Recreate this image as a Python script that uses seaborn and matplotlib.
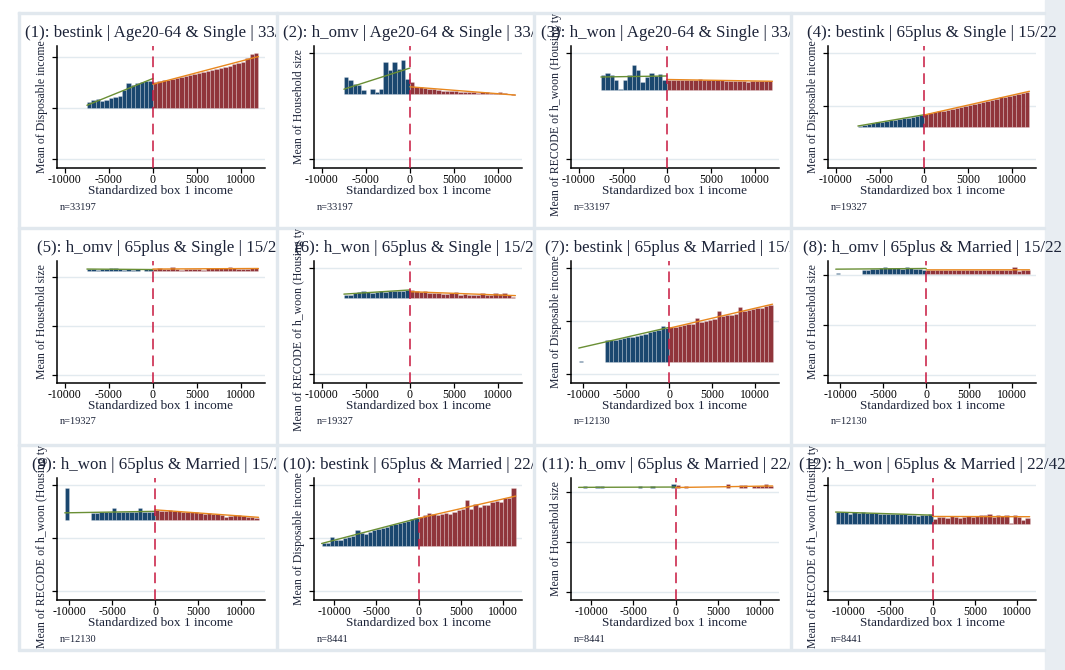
import numpy as np
import matplotlib
matplotlib.use("Agg")
import matplotlib.pyplot as plt
from matplotlib.transforms import Bbox, TransformedBbox
from matplotlib.patches import Rectangle
import seaborn as sns

# ---------------------------------------------------------------------------
# Binned means (500-wide bins of standardized box 1 income), left of the
# cutoff ending at 0 and right of the cutoff starting at 0. NaN = empty bin.
# Values are in each panel's own y units (axis ticks at 0 / 0.5 / 1).
# ---------------------------------------------------------------------------
BIN_WIDTH = 500
nan = np.nan

p1_left = [0.562, 0.578, 0.584, 0.571, 0.578, 0.594, 0.610, 0.617, 0.675, 0.740,
           0.724, 0.740, 0.756, 0.763, 0.766]
p1_right = [0.756, 0.762, 0.770, 0.778, 0.787, 0.795, 0.805, 0.812, 0.823, 0.833,
            0.842, 0.852, 0.862, 0.873, 0.884, 0.893, 0.903, 0.914, 0.925, 0.935,
            0.948, 0.985, 1.030, 1.040]
p1_base = 0.5

p2_left = [0.773, 0.748, 0.710, 0.695, 0.654, 0.617, 0.664, 0.632, 0.664, 0.913,
           0.835, 0.913, 0.850, 0.935, 0.757]
p2_right = [0.726, 0.680, 0.675, 0.665, 0.660, 0.655, 0.650, 0.645, 0.642, 0.640,
            0.637, 0.635, 0.632, 0.630, 0.628, 0.625, 0.628, 0.632, 0.622, 0.620,
            0.628, 0.625, 0.612, 0.600]
p2_base = 0.61

p3_left = [0.788, 0.810, 0.788, 0.741, 0.664, 0.741, 0.788, 0.882, 0.835, 0.726,
           0.773, 0.810, 0.779, 0.798, 0.741]
p3_right = [0.748, 0.748, 0.746, 0.748, 0.745, 0.742, 0.748, 0.750, 0.746, 0.744,
            0.742, 0.740, 0.740, 0.739, 0.738, 0.738, 0.737, 0.736, 0.726, 0.738,
            0.737, 0.736, 0.735, 0.735]
p3_base = 0.648

p4_left = [0.310, 0.320, 0.330, 0.335, 0.345, 0.350, 0.360, 0.365, 0.370, 0.380,
           0.385, 0.390, 0.400, 0.405, 0.410]
p4_right = [0.420, 0.430, 0.440, 0.450, 0.455, 0.465, 0.475, 0.480, 0.490, 0.500,
            0.510, 0.520, 0.530, 0.540, 0.550, 0.560, 0.570, 0.580, 0.585, 0.595,
            0.605, 0.615, 0.625, 0.635]
p4_base = 0.297

p5_left = [1.080, 1.080, 1.075, 1.080, 1.085, 1.095, 1.090, 1.080, 1.070, 1.080,
           1.075, 1.080, 1.065, 1.080, 1.085]
p5_right = [1.085, 1.090, 1.080, 1.080, 1.100, 1.080, 1.075, 1.080, 1.080, 1.080,
            1.080, 1.075, 1.090, 1.090, 1.090, 1.090, 1.095, 1.100, 1.090, 1.080,
            1.080, 1.080, 1.090, 1.090]
p5_base = 1.06

p6_left = [0.740, 0.745, 0.760, 0.775, 0.780, 0.775, 0.765, 0.775, 0.780, 0.775,
           0.780, 0.782, 0.780, 0.785, 0.790]
p6_right = [0.790, 0.780, 0.775, 0.778, 0.765, 0.760, 0.765, 0.755, 0.750, 0.762,
            0.775, 0.745, 0.750, 0.745, 0.740, 0.745, 0.760, 0.745, 0.740, 0.765,
            0.750, 0.765, 0.740, 0.730]
p6_base = 0.717

p7_left = [0.127, nan, nan, nan, nan, nan,
           0.317, 0.320, 0.325, 0.332, 0.340, 0.347, 0.353, 0.362, 0.372, 0.381,
           0.392, 0.402, 0.413, 0.454, 0.436]
p7_right = [0.440, 0.445, 0.450, 0.460, 0.468, 0.475, 0.524, 0.490, 0.500, 0.508,
            0.518, 0.597, 0.545, 0.553, 0.560, 0.565, 0.635, 0.590, 0.600, 0.612,
            0.620, 0.626, 0.640, 0.654]
p7_base = 0.111

p8_left = [1.015, nan, nan, nan, nan, nan,
           1.048, 1.050, 1.055, 1.062, 1.072, 1.075, 1.070, 1.065, 1.068, 1.060,
           1.075, 1.068, 1.060, 1.056, 1.052]
p8_right = [1.052, 1.050, 1.052, 1.050, 1.053, 1.050, 1.052, 1.050, 1.052, 1.050,
            1.052, 1.050, 1.052, 1.050, 1.052, 1.050, 1.052, 1.050, 1.052, 1.050,
            1.075, 1.040, 1.052, 1.045]
p8_base = 1.007

p9_left = [0.968, nan, nan, nan, nan, nan,
           0.735, 0.735, 0.740, 0.740, 0.742, 0.780, 0.742, 0.740, 0.742, 0.740,
           0.744, 0.780, 0.742, 0.740, 0.744]
p9_right = [0.760, 0.755, 0.755, 0.760, 0.750, 0.750, 0.745, 0.745, 0.740, 0.740,
            0.735, 0.730, 0.735, 0.725, 0.730, 0.720, 0.700, 0.710, 0.715, 0.720,
            0.705, 0.700, 0.695, 0.690]
p9_base = 0.665

p10_left = [0.450, 0.457, 0.511, 0.479, 0.482, 0.495, 0.505, 0.521, 0.575, 0.546,
            0.537, 0.559, 0.578, 0.585, 0.591, 0.601, 0.623, 0.633, 0.642, 0.649,
            0.661, 0.674, 0.687]
p10_right = [0.696, 0.712, 0.738, 0.728, 0.719, 0.728, 0.738, 0.728, 0.744, 0.760,
             0.776, 0.856, 0.776, 0.824, 0.792, 0.808, 0.808, 0.840, 0.847, 0.840,
             0.872, 0.872, 0.968]
p10_base = 0.425

p11_left = [1.043, 1.058, 1.043, 1.043, 1.058, 1.058, 1.043, 1.043, 1.043, 1.043,
            1.043, 1.043, 1.043, 1.043, 1.058, 1.043, 1.043, 1.058, 1.043, 1.043,
            1.043, 1.043, 1.075]
p11_right = [1.068, 1.043, 1.058, 1.043, 1.043, 1.043, 1.043, 1.043, 1.043, 1.043,
             1.043, 1.043, 1.075, 1.043, 1.043, 1.068, 1.068, 1.043, 1.058, 1.058,
             1.058, 1.075, 1.058]
p11_base = 1.041

p12_left = [0.745, 0.745, 0.740, 0.728, 0.740, 0.735, 0.740, 0.735, 0.735, 0.735,
            0.730, 0.730, 0.730, 0.730, 0.725, 0.730, 0.725, 0.720, 0.715, 0.705,
            0.720, 0.715, 0.725]
p12_right = [0.680, 0.700, 0.700, 0.690, 0.710, 0.700, 0.690, 0.700, 0.710, 0.700,
             0.710, 0.720, 0.720, 0.730, 0.700, 0.720, 0.710, 0.720, 0.640, 0.720,
             0.700, 0.670, 0.690]
p12_base = 0.633

outcomes = ["bestink", "h_omv", "h_won", "bestink", "h_omv", "h_won",
            "bestink", "h_omv", "h_won", "bestink", "h_omv", "h_won"]
groups = ["Age20-64 & Single"] * 3 + ["65plus & Single"] * 3 + ["65plus & Married"] * 6
cutoffs = ["33/42"] * 3 + ["15/22"] * 6 + ["22/42"] * 3
sample_sizes = [33197] * 3 + [19327] * 3 + [12130] * 3 + [8441] * 3
outcome_labels = {
    "bestink": "Mean of Disposable income",
    "h_omv": "Mean of Household size",
    "h_won": "Mean of RECODE of h_woon (Housing type)",
}
x_ticks = [-10000, -5000, 0, 5000, 10000]
x_title = "Standardized box 1 income"

left_series = [p1_left, p2_left, p3_left, p4_left, p5_left, p6_left,
               p7_left, p8_left, p9_left, p10_left, p11_left, p12_left]
right_series = [p1_right, p2_right, p3_right, p4_right, p5_right, p6_right,
                p7_right, p8_right, p9_right, p10_right, p11_right, p12_right]
bases = [p1_base, p2_base, p3_base, p4_base, p5_base, p6_base,
         p7_base, p8_base, p9_base, p10_base, p11_base, p12_base]
tick_sets = [3, 2, 2, 3, 3, 2, 3, 3, 3, 3, 3, 2]

# ---------------------------------------------------------------------------
# Style
# ---------------------------------------------------------------------------
sns.set_theme(style="ticks")
plt.rcParams["font.family"] = ["Liberation Serif", "DejaVu Serif"]
plt.rcParams["axes.linewidth"] = 1.1

BLUE = "#1a476f"
MAROON = "#90353b"
GREEN = "#6a8f35"
ORANGE = "#e8871e"
CUT_RED = "#c8173f"
GRID = "#e2eaef"
SEP = "#e1e8ee"
STRIP = "#e8edf2"
TEXT = "#1c2338"

W, H = 1065, 670
fig = plt.figure(figsize=(W / 100, H / 100), dpi=100, facecolor="white")


def fx(px):
    return px / W


def fy(py):
    return 1 - py / H


col_left = [20, 277, 534, 791]
col_right = [276, 533, 790, 1045]
row_top = [14, 229, 446]
row_bottom = [227, 443, 649]

# page background: right strip and light cell separators
fig.patches.append(Rectangle((fx(1045), 0), fx(20), 1, transform=fig.transFigure,
                             color=STRIP, zorder=0))
for xs in [18, 276, 533, 790]:
    fig.patches.append(Rectangle((fx(xs), fy(649)), fx(2), (649 - 12) / H,
                                 transform=fig.transFigure, color=SEP, zorder=0))
for ys in [12, 227, 444, 649]:
    fig.patches.append(Rectangle((fx(18), fy(ys + 2)), fx(1045 - 18), 2 / H,
                                 transform=fig.transFigure, color=SEP, zorder=0))


def cell_clip(r, c):
    x1 = W if c == 3 else col_right[c]
    box = Bbox.from_extents(fx(col_left[c]), fy(row_bottom[r]), fx(x1), fy(row_top[r]))
    return TransformedBbox(box, fig.transFigure)


AX_W, AX_H = 208, 122

for i in range(12):
    r, c = divmod(i, 4)
    left = np.array(left_series[i], dtype=float)
    right = np.array(right_series[i], dtype=float)
    base = bases[i]

    ax_l = col_left[c] + 37
    ax_t = row_top[r] + 32
    ax = fig.add_axes([fx(ax_l), fy(ax_t + AX_H), AX_W / W, AX_H / H])
    ax.set_facecolor("white")

    n_l, n_r = len(left), len(right)
    cx_l = -BIN_WIDTH * n_l + BIN_WIDTH * (np.arange(n_l) + 0.5)
    cx_r = BIN_WIDTH * (np.arange(n_r) + 0.5)
    ok = ~np.isnan(left)

    ax.bar(cx_l[ok], left[ok] - base, bottom=base, width=BIN_WIDTH, color=BLUE,
           edgecolor=(1, 1, 1, 0.3), linewidth=0.5, zorder=2)
    ax.bar(cx_r, right - base, bottom=base, width=BIN_WIDTH, color=MAROON,
           edgecolor=(1, 1, 1, 0.3), linewidth=0.5, zorder=2)

    # linear fits on each side of the cutoff (left: main contiguous block)
    gaps = np.where(~ok)[0]
    start = gaps.max() + 1 if len(gaps) else 0
    coef_l = np.polyfit(cx_l[start:], left[start:], 1)
    x0 = cx_l[ok][0] - BIN_WIDTH / 2
    fit_x = np.array([x0, 0.0])
    sns.lineplot(x=fit_x, y=np.polyval(coef_l, fit_x), color=GREEN, lw=1.0,
                 ax=ax, zorder=3, legend=False)
    coef_r = np.polyfit(cx_r, right, 1)
    fit_x = np.array([0.0, BIN_WIDTH * n_r])
    sns.lineplot(x=fit_x, y=np.polyval(coef_r, fit_x), color=ORANGE, lw=1.0,
                 ax=ax, zorder=3, legend=False)

    ax.axvline(0, color=CUT_RED, lw=1.1, dashes=(7, 4), zorder=4)

    vals = np.concatenate([left[ok], right])
    ax.set_ylim(min(0.0, vals.min()) - 0.085, max(1.0, vals.max()) + 0.065)
    ax.set_xlim(min(-10000, -BIN_WIDTH * n_l) - 900, max(10000, BIN_WIDTH * n_r) + 750)

    ax.set_yticks([0, 0.5, 1] if tick_sets[i] == 3 else [0, 1])
    ax.set_yticklabels([])
    ax.set_xticks(x_ticks)
    ax.set_xticklabels([str(t) for t in x_ticks], fontsize=8.5, color="black")
    ax.tick_params(axis="both", direction="out", length=3.5, width=0.9, pad=1.0,
                   color="black")
    ax.grid(axis="y", color=GRID, lw=1.0, zorder=0)
    ax.grid(axis="x", visible=False)
    ax.set_axisbelow(True)
    sns.despine(ax=ax)
    for s in ("left", "bottom"):
        ax.spines[s].set_color("black")
    ax.set_xlabel("")
    ax.set_ylabel("")

    clip = cell_clip(r, c)
    mid_x = ax_l + AX_W / 2
    title = f"({i + 1}): {outcomes[i]} | {groups[i]} | {cutoffs[i]}"
    t = fig.text(fx(mid_x), fy(row_top[r] + 19), title, ha="center", va="center",
                 fontsize=12.2, color=TEXT)
    t.set_clip_box(clip)
    t.set_clip_on(True)

    yl = fig.text(fx(col_left[c] + 22), fy(ax_t + AX_H / 2), outcome_labels[outcomes[i]],
                  rotation=90, ha="center", va="center", fontsize=8.5, color=TEXT)
    yl.set_clip_box(clip)
    yl.set_clip_on(True)

    fig.text(fx(mid_x), fy(row_top[r] + 177), x_title, ha="center", va="center",
             fontsize=9.5, color=TEXT)
    fig.text(fx(col_left[c] + 40), fy(row_top[r] + 193), f"n={sample_sizes[i]}",
             ha="left", va="center", fontsize=7.5, color=TEXT)

fig.savefig("out.png", dpi=100, facecolor="white")
